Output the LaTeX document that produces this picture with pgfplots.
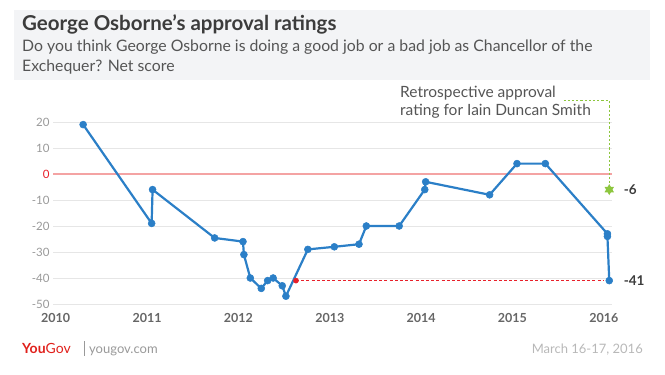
\documentclass[border=0pt]{standalone}
\usepackage{pgfplots}
\pgfplotsset{compat=1.18}
\usepackage{fontspec}
\setmainfont{Lato}
\definecolor{bline}{HTML}{2B7FC7}
\definecolor{bggray}{HTML}{F3F4F6}
\definecolor{titlecol}{HTML}{3C3C3C}
\definecolor{subcol}{HTML}{555555}
\definecolor{gridgray}{HTML}{E6E6E6}
\definecolor{ticklab}{HTML}{999999}
\definecolor{xlab}{HTML}{666666}
\definecolor{zerored}{HTML}{F4A3A3}
\definecolor{dotred}{HTML}{E8202A}
\definecolor{idsgreen}{HTML}{8DC63F}
\definecolor{ygred}{HTML}{E0201B}
\pgfdeclareplotmark{hexstar}{%
 \pgfpathmoveto{\pgfpointpolar{90}{\pgfplotmarksize}}%
 \pgfpathlineto{\pgfpointpolar{210}{\pgfplotmarksize}}%
 \pgfpathlineto{\pgfpointpolar{330}{\pgfplotmarksize}}%
 \pgfpathclose
 \pgfpathmoveto{\pgfpointpolar{270}{\pgfplotmarksize}}%
 \pgfpathlineto{\pgfpointpolar{30}{\pgfplotmarksize}}%
 \pgfpathlineto{\pgfpointpolar{150}{\pgfplotmarksize}}%
 \pgfpathclose
 \pgfusepathqfill}
\begin{document}
\begin{tikzpicture}[x=1pt,y=1pt]
\path[use as bounding box] (0,0) rectangle (665,375);
\fill[bggray] (14,295) rectangle (650,365);
\node[anchor=base west, inner sep=0, font=\fontsize{20.5}{24}\selectfont\bfseries, text=titlecol] at (22,344) {George Osborne\symbol{39}s approval ratings};
\node[anchor=base west, inner sep=0, font=\fontsize{15.8}{18}\selectfont, text=subcol] at (22,323) {Do you think George Osborne is doing a good job or a bad job as Chancellor of the};
\node[anchor=base west, inner sep=0, font=\fontsize{15.8}{18}\selectfont, text=subcol] at (22,303) {Exchequer? Net score};
\begin{axis}[
  at={(53pt,65.8pt)}, anchor=south west,
  scale only axis, width=559pt, height=218.4pt,
  xmin=2009.97, xmax=2016.09, ymin=-52, ymax=32,
  clip=false,
  axis line style={draw=none}, tick style={draw=none},
  ytick={-50,-40,-30,-20,-10,0,10,20},
  yticklabels={-50,-40,-30,-20,-10,\textcolor{dotred}{0},10,20},
  yticklabel style={font=\fontsize{11.5}{11.5}\selectfont, text=ticklab},
  xtick={2010,2011,2012,2013,2014,2015,2016},
  xticklabels={2010,2011,2012,2013,2014,2015,2016},
  xticklabel style={font=\fontsize{12.5}{12.5}\selectfont\bfseries, text=xlab, yshift=-1pt},
  ymajorgrids, grid style={color=gridgray, line width=0.8pt},
]
\addplot[zerored, line width=1.2pt] coordinates {(2009.97,0) (2016.09,0)};
\addplot[dotred, line width=1.7pt, dash pattern=on 3pt off 2.2pt] coordinates {(2012.63,-41) (2016.0,-41)};
\addplot[idsgreen, line width=1pt, dash pattern=on 2.2pt off 2pt] coordinates {(2015.56,28.2) (2016.06,28.2) (2016.06,-6)};
\addplot[bline, line width=2.2pt, mark=*, mark size=3.5pt, mark options={fill=bline, draw=bline, line width=0.5pt}] coordinates {
(2010.30,19) (2011.05,-19) (2011.06,-6) (2011.74,-24.6) (2012.05,-26) (2012.06,-31)
(2012.13,-40) (2012.25,-44) (2012.32,-41) (2012.38,-40) (2012.48,-43) (2012.52,-47)
(2012.76,-29) (2013.05,-28) (2013.32,-27) (2013.40,-20) (2013.76,-20) (2014.04,-6)
(2014.05,-3) (2014.75,-8) (2015.05,4) (2015.36,4) (2016.04,-23) (2016.04,-24) (2016.06,-41)};
\addplot[only marks, dotred, mark=*, mark size=2.6pt, mark options={fill=dotred, draw=dotred}] coordinates {(2012.63,-41)};
\addplot[only marks, idsgreen, mark=hexstar, mark size=5.5pt] coordinates {(2016.06,-6)};
\node[anchor=west, font=\fontsize{13.5}{13.5}\selectfont\bfseries, text=titlecol, xshift=11pt] at (axis cs:2016.06,-6) {-6};
\node[anchor=west, font=\fontsize{13.5}{13.5}\selectfont\bfseries, text=titlecol, xshift=11pt] at (axis cs:2016.06,-41) {-41};
\end{axis}
\node[anchor=north west, align=left, inner sep=0, font=\fontsize{15.5}{18}\selectfont, text=subcol] at (400,289) {Retrospective approval\\rating for Iain Duncan Smith};
\node[anchor=base west, inner sep=0, font=\fontsize{14}{14}\selectfont, text=ygred] at (22,21) {\textbf{You}Gov};
\draw[ticklab, line width=0.6pt] (84,19) -- (84,34);
\node[anchor=base west, inner sep=0, font=\fontsize{13}{13}\selectfont, text=ticklab] at (89,21) {yougov.com};
\node[anchor=base east, inner sep=0, font=\fontsize{13}{13}\selectfont, text=ticklab!70] at (643,21) {March 16-17, 2016};
\end{tikzpicture}
\end{document}
